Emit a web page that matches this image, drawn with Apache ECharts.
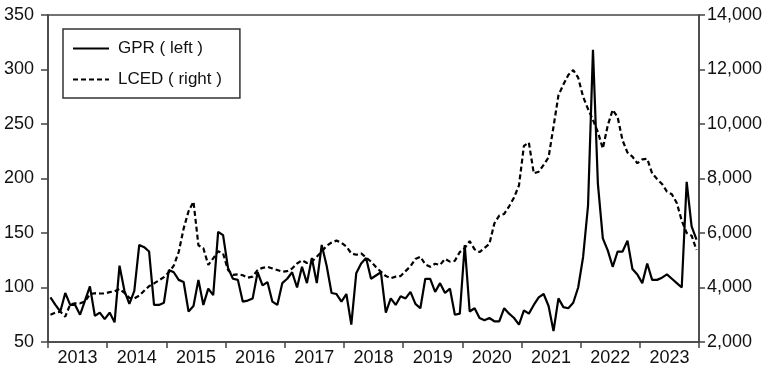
<!DOCTYPE html>
<html>
<head>
<meta charset="utf-8">
<script src="https://cdn.jsdelivr.net/npm/echarts@6/dist/echarts.min.js"></script>
<style>
html,body{margin:0;padding:0;background:#fff;}
#chart{width:775px;height:372px;}
</style>
</head>
<body>
<div id="chart"></div>
<script>
// Year labels (each covers 12 monthly observations, Jan 2013 - Dec 2023)
var yearLabels = ['2013','2014','2015','2016','2017','2018','2019','2020','2021','2022','2023'];
var firstYear = 2013;

// GPR (left axis), monthly
var gpr = [
  91, 84, 78, 95, 84, 84, 75, 88, 101, 74, 77, 71,        // 2013
  77, 68, 120, 97, 85, 97, 139, 137, 133, 84, 84, 86,     // 2014
  116, 114, 107, 105, 78, 83, 107, 84, 99, 93, 151, 148,  // 2015
  118, 108, 107, 87, 88, 90, 114, 102, 105, 87, 84, 104,  // 2016
  108, 114, 100, 119, 104, 127, 104, 139, 120, 95, 94, 87,// 2017
  94, 66, 113, 122, 127, 108, 111, 114, 77, 90, 84, 92,   // 2018
  90, 96, 85, 81, 108, 108, 96, 104, 95, 99, 75, 76,      // 2019
  139, 78, 81, 72, 70, 72, 69, 69, 81, 76, 72, 66,        // 2020
  79, 76, 84, 91, 94, 83, 60, 90, 82, 81, 86, 100,        // 2021
  128, 175, 318, 195, 145, 134, 119, 133, 133, 143, 117, 112, // 2022
  104, 122, 107, 107, 109, 112, 108, 104, 100, 197, 156, 144  // 2023
];

// LCED (right axis), monthly
var lced = [
  3000, 3080, 3110, 2930, 3380, 3420, 3420, 3480, 3760, 3790, 3780, 3780,   // 2013
  3830, 3860, 3950, 3800, 3620, 3600, 3700, 3880, 4050, 4150, 4260, 4380,   // 2014
  4560, 4800, 5300, 6160, 6800, 7150, 5550, 5440, 4830, 5070, 5330, 5250,   // 2015
  4640, 4460, 4480, 4450, 4360, 4400, 4640, 4720, 4760, 4700, 4640, 4580,   // 2016
  4600, 4700, 4880, 5000, 4900, 4950, 5130, 5320, 5530, 5650, 5720, 5640,   // 2017
  5500, 5250, 5200, 5250, 5100, 4950, 4750, 4580, 4420, 4340, 4400, 4420,   // 2018
  4600, 4780, 5050, 5130, 4850, 4760, 4870, 4830, 5050, 4950, 4980, 5300,   // 2019
  5450, 5700, 5400, 5300, 5450, 5600, 6350, 6640, 6700, 6980, 7300, 7750,   // 2020
  9200, 9320, 8190, 8250, 8500, 8780, 9900, 11050, 11450, 11800, 11980, 11700, // 2021
  11000, 10550, 10150, 9700, 9100, 9950, 10520, 10250, 9400, 8950, 8800, 8560, // 2022
  8700, 8720, 8190, 7980, 7800, 7520, 7420, 7100, 6450, 6000, 5900, 5380    // 2023
];

function toPairs(arr) {
  return arr.map(function (v, i) { return [firstYear + (i + 0.5) / 12, v]; });
}

var font = 'Liberation Sans, Arial, sans-serif';
var axisColor = '#444';

var chart = echarts.init(document.getElementById('chart'), null, {renderer: 'canvas'});
chart.setOption({
  animation: false,
  backgroundColor: '#fff',
  textStyle: {fontFamily: font, color: '#111'},
  grid: {left: 48, right: 76, top: 15, bottom: 30, show: true, borderColor: axisColor, borderWidth: 1.5, backgroundColor: 'transparent'},
  legend: {
    orient: 'vertical',
    left: 63, top: 29,
    padding: [11, 18, 10, 9],
    itemWidth: 36, itemHeight: 17, itemGap: 14,
    borderColor: '#333', borderWidth: 1.5,
    itemStyle: {opacity: 0, borderWidth: 0},
    textStyle: {fontFamily: font, fontSize: 17, color: '#111', padding: [0, 0, 0, 4]},
    data: ['GPR ( left )', 'LCED ( right )']
  },
  xAxis: [{
    type: 'value', min: firstYear, max: firstYear + yearLabels.length, interval: 1,
    axisLine: {show: true, lineStyle: {color: axisColor, width: 1.5}},
    axisTick: {show: true, length: 6, lineStyle: {color: axisColor, width: 1.5}},
    axisLabel: {show: false},
    splitLine: {show: false}
  }, {
    type: 'category', data: yearLabels, position: 'bottom', boundaryGap: true,
    axisLine: {show: false}, axisTick: {show: false}, splitLine: {show: false},
    axisLabel: {show: true, interval: 0, margin: 7, fontSize: 18, fontFamily: font, color: '#111'}
  }],
  yAxis: [{
    type: 'value', min: 50, max: 350, interval: 50, position: 'left',
    axisLine: {show: true, lineStyle: {color: axisColor, width: 1.5}},
    axisTick: {show: true, length: 7, lineStyle: {color: axisColor, width: 1.5}},
    axisLabel: {margin: 14, fontSize: 18, fontFamily: font, color: '#111'},
    splitLine: {show: false}
  }, {
    type: 'value', min: 2000, max: 14000, interval: 2000, position: 'right',
    axisLine: {show: true, lineStyle: {color: axisColor, width: 1.5}},
    axisTick: {show: true, length: 6, lineStyle: {color: axisColor, width: 1.5}},
    axisLabel: {margin: 8, fontSize: 18, fontFamily: font, color: '#111',
      formatter: function (v) { return v.toLocaleString('en-US'); }},
    splitLine: {show: false}
  }],
  series: [{
    name: 'GPR ( left )', type: 'line', xAxisIndex: 0, yAxisIndex: 0,
    data: toPairs(gpr), showSymbol: false, symbol: 'none',
    lineStyle: {color: '#000', width: 2.2}, itemStyle: {color: '#000'}
  }, {
    name: 'LCED ( right )', type: 'line', xAxisIndex: 0, yAxisIndex: 1,
    data: toPairs(lced), showSymbol: false, symbol: 'none',
    lineStyle: {color: '#000', width: 2.2, type: [5, 3]}, itemStyle: {color: '#000'}
  }]
});
</script>
</body>
</html>
